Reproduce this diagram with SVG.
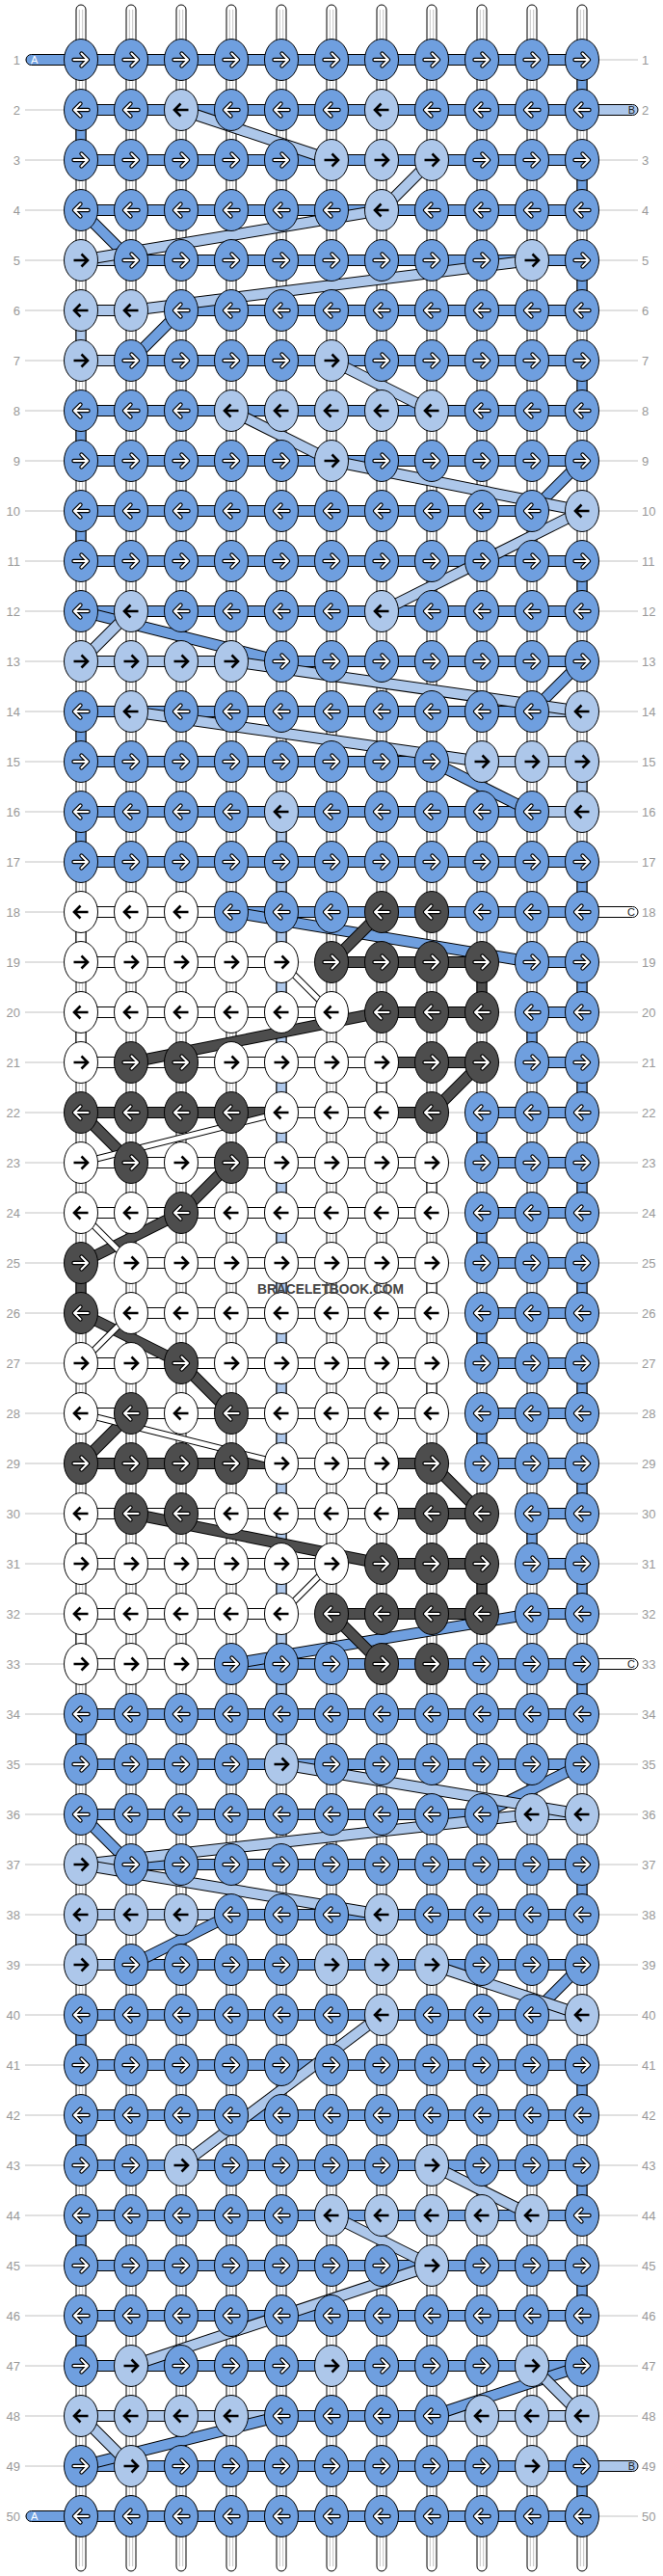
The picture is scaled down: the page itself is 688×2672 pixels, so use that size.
<svg xmlns="http://www.w3.org/2000/svg" xmlns:xlink="http://www.w3.org/1999/xlink" width="688" height="2672" viewBox="0 0 688 2672">
<style>
.lbl{font-family:"Liberation Sans",Arial,sans-serif;font-size:13px;fill:#999}
.gl{stroke:#c2c2c2;stroke-width:1}
.bs{fill:#fff;stroke:#000;stroke-width:1}
.bl{stroke:#c4c4c4;stroke-width:1}
.d{fill:#6f9fdf;stroke:#000;stroke-width:1}
.l{fill:#adc7ea;stroke:#000;stroke-width:1}
.w{fill:#fff;stroke:#000;stroke-width:1}
.k{fill:#4d4d4d;stroke:#000;stroke-width:1}
.so{stroke:#000;stroke-width:12}
.sow{stroke:#000;stroke-width:7}
.sd{stroke:#6f9fdf;stroke-width:10}
.sl{stroke:#adc7ea;stroke-width:10}
.sw{stroke:#fff;stroke-width:5}
.sk{stroke:#4d4d4d;stroke-width:10}
.ao{fill:none;stroke:#000;stroke-width:4.4;stroke-linecap:round;stroke-linejoin:round}
.ai{fill:none;stroke:#fff;stroke-width:2;stroke-linecap:round;stroke-linejoin:round}
.ab{fill:none;stroke:#000;stroke-width:2.6;stroke-linecap:butt;stroke-linejoin:miter}
.tl{font-family:"Liberation Sans",Arial,sans-serif;font-size:11px}
</style>
<defs>
<path id="ar" d="M-7.5 0H6M0.5-6.5L7 0L0.5 6.5"/>
<path id="al" d="M7.5 0H-6M-0.5-6.5L-7 0L-0.5 6.5"/>
<g id="DR"><ellipse class="d" rx="17.5" ry="21.5"/><use href="#ar" class="ao"/><use href="#ar" class="ai"/></g>
<g id="DL"><ellipse class="d" rx="17.5" ry="21.5"/><use href="#al" class="ao"/><use href="#al" class="ai"/></g>
<g id="KR"><ellipse class="k" rx="17.5" ry="21.5"/><use href="#ar" class="ao"/><use href="#ar" class="ai"/></g>
<g id="KL"><ellipse class="k" rx="17.5" ry="21.5"/><use href="#al" class="ao"/><use href="#al" class="ai"/></g>
<g id="LR"><ellipse class="l" rx="17.5" ry="21.5"/><use href="#ar" class="ab"/></g>
<g id="LL"><ellipse class="l" rx="17.5" ry="21.5"/><use href="#al" class="ab"/></g>
<g id="WR"><ellipse class="w" rx="17.5" ry="21.5"/><use href="#ar" class="ab"/></g>
<g id="WL"><ellipse class="w" rx="17.5" ry="21.5"/><use href="#al" class="ab"/></g>
<g id="vs"><rect class="bs" x="-5" y="5" width="10" height="2662" rx="5"/><line class="bl" x1="-1.7" y1="10" x2="-1.7" y2="2662"/><line class="bl" x1="1.7" y1="10" x2="1.7" y2="2662"/></g>
</defs>
<rect width="688" height="2672" fill="#fff"/>
<g id="guides">
<path class="gl" d="M26 62H662M26 114H662M26 166H662M26 218H662M26 270H662M26 322H662M26 374H662M26 426H662M26 478H662M26 530H662M26 582H662M26 634H662M26 686H662M26 738H662M26 790H662M26 842H662M26 894H662M26 946H662M26 998H662M26 1050H662M26 1102H662M26 1154H662M26 1206H662M26 1258H662M26 1310H662M26 1362H662M26 1414H662M26 1466H662M26 1518H662M26 1570H662M26 1622H662M26 1674H662M26 1726H662M26 1778H662M26 1830H662M26 1882H662M26 1934H662M26 1986H662M26 2038H662M26 2090H662M26 2142H662M26 2194H662M26 2246H662M26 2298H662M26 2350H662M26 2402H662M26 2454H662M26 2506H662M26 2558H662M26 2610H662"/>
</g>
<g id="labels-left" class="lbl" text-anchor="end">
<text x="21" y="66.5">1</text><text x="21" y="118.5">2</text><text x="21" y="170.5">3</text><text x="21" y="222.5">4</text><text x="21" y="274.5">5</text><text x="21" y="326.5">6</text><text x="21" y="378.5">7</text><text x="21" y="430.5">8</text><text x="21" y="482.5">9</text><text x="21" y="534.5">10</text><text x="21" y="586.5">11</text><text x="21" y="638.5">12</text><text x="21" y="690.5">13</text><text x="21" y="742.5">14</text><text x="21" y="794.5">15</text><text x="21" y="846.5">16</text><text x="21" y="898.5">17</text><text x="21" y="950.5">18</text><text x="21" y="1002.5">19</text><text x="21" y="1054.5">20</text><text x="21" y="1106.5">21</text><text x="21" y="1158.5">22</text><text x="21" y="1210.5">23</text><text x="21" y="1262.5">24</text><text x="21" y="1314.5">25</text><text x="21" y="1366.5">26</text><text x="21" y="1418.5">27</text><text x="21" y="1470.5">28</text><text x="21" y="1522.5">29</text><text x="21" y="1574.5">30</text><text x="21" y="1626.5">31</text><text x="21" y="1678.5">32</text><text x="21" y="1730.5">33</text><text x="21" y="1782.5">34</text><text x="21" y="1834.5">35</text><text x="21" y="1886.5">36</text><text x="21" y="1938.5">37</text><text x="21" y="1990.5">38</text><text x="21" y="2042.5">39</text><text x="21" y="2094.5">40</text><text x="21" y="2146.5">41</text><text x="21" y="2198.5">42</text><text x="21" y="2250.5">43</text><text x="21" y="2302.5">44</text><text x="21" y="2354.5">45</text><text x="21" y="2406.5">46</text><text x="21" y="2458.5">47</text><text x="21" y="2510.5">48</text><text x="21" y="2562.5">49</text><text x="21" y="2614.5">50</text>
</g>
<g id="labels-right" class="lbl">
<text x="666" y="66.5">1</text><text x="666" y="118.5">2</text><text x="666" y="170.5">3</text><text x="666" y="222.5">4</text><text x="666" y="274.5">5</text><text x="666" y="326.5">6</text><text x="666" y="378.5">7</text><text x="666" y="430.5">8</text><text x="666" y="482.5">9</text><text x="666" y="534.5">10</text><text x="666" y="586.5">11</text><text x="666" y="638.5">12</text><text x="666" y="690.5">13</text><text x="666" y="742.5">14</text><text x="666" y="794.5">15</text><text x="666" y="846.5">16</text><text x="666" y="898.5">17</text><text x="666" y="950.5">18</text><text x="666" y="1002.5">19</text><text x="666" y="1054.5">20</text><text x="666" y="1106.5">21</text><text x="666" y="1158.5">22</text><text x="666" y="1210.5">23</text><text x="666" y="1262.5">24</text><text x="666" y="1314.5">25</text><text x="666" y="1366.5">26</text><text x="666" y="1418.5">27</text><text x="666" y="1470.5">28</text><text x="666" y="1522.5">29</text><text x="666" y="1574.5">30</text><text x="666" y="1626.5">31</text><text x="666" y="1678.5">32</text><text x="666" y="1730.5">33</text><text x="666" y="1782.5">34</text><text x="666" y="1834.5">35</text><text x="666" y="1886.5">36</text><text x="666" y="1938.5">37</text><text x="666" y="1990.5">38</text><text x="666" y="2042.5">39</text><text x="666" y="2094.5">40</text><text x="666" y="2146.5">41</text><text x="666" y="2198.5">42</text><text x="666" y="2250.5">43</text><text x="666" y="2302.5">44</text><text x="666" y="2354.5">45</text><text x="666" y="2406.5">46</text><text x="666" y="2458.5">47</text><text x="666" y="2510.5">48</text><text x="666" y="2562.5">49</text><text x="666" y="2614.5">50</text>
</g>
<g id="base-strings">
<use href="#vs" x="84"/><use href="#vs" x="136"/><use href="#vs" x="188"/><use href="#vs" x="240"/><use href="#vs" x="292"/><use href="#vs" x="344"/><use href="#vs" x="396"/><use href="#vs" x="448"/><use href="#vs" x="500"/><use href="#vs" x="552"/><use href="#vs" x="604"/>
</g>
<g id="tails">
<rect class="d" x="27" y="56.5" width="60" height="11" rx="5.5"/><text class="tl" x="32" y="66" fill="#fff">A</text>
<rect class="d" x="27" y="2604.5" width="60" height="11" rx="5.5"/><text class="tl" x="32" y="2614" fill="#fff">A</text>
<rect class="l" x="600" y="108.5" width="62" height="11" rx="5.5"/><text class="tl" x="659" y="118" text-anchor="end" fill="#222">B</text>
<rect class="l" x="600" y="2552.5" width="62" height="11" rx="5.5"/><text class="tl" x="659" y="2562" text-anchor="end" fill="#222">B</text>
<rect class="w" x="600" y="940.5" width="62" height="11" rx="5.5"/><text class="tl" x="659" y="950" text-anchor="end" fill="#222">C</text>
<rect class="w" x="600" y="1720.5" width="62" height="11" rx="5.5"/><text class="tl" x="659" y="1730" text-anchor="end" fill="#222">C</text>
</g>
<g id="connectors">
<g id="vertical-turns">
<rect class="d" x="599" y="62" width="10" height="52"/><rect class="d" x="79" y="114" width="10" height="52"/><rect class="d" x="599" y="166" width="10" height="52"/><rect class="d" x="599" y="270" width="10" height="52"/><rect class="d" x="599" y="374" width="10" height="52"/><rect class="d" x="79" y="426" width="10" height="52"/><rect class="d" x="79" y="530" width="10" height="52"/><rect class="d" x="599" y="582" width="10" height="52"/><rect class="d" x="79" y="738" width="10" height="52"/><rect class="d" x="79" y="842" width="10" height="52"/><rect class="d" x="599" y="894" width="10" height="52"/><rect class="d" x="599" y="998" width="10" height="52"/><rect class="d" x="547" y="1050" width="10" height="52"/><rect class="d" x="599" y="1102" width="10" height="52"/><rect class="d" x="495" y="1154" width="10" height="52"/><rect class="d" x="599" y="1206" width="10" height="52"/><rect class="d" x="495" y="1258" width="10" height="52"/><rect class="d" x="599" y="1310" width="10" height="52"/><rect class="d" x="495" y="1362" width="10" height="52"/><rect class="d" x="599" y="1414" width="10" height="52"/><rect class="d" x="495" y="1466" width="10" height="52"/><rect class="d" x="599" y="1518" width="10" height="52"/><rect class="d" x="547" y="1570" width="10" height="52"/><rect class="d" x="599" y="1622" width="10" height="52"/><rect class="d" x="599" y="1726" width="10" height="52"/><rect class="d" x="79" y="1778" width="10" height="52"/><rect class="d" x="599" y="1934" width="10" height="52"/><rect class="d" x="79" y="2090" width="10" height="52"/><rect class="d" x="599" y="2142" width="10" height="52"/><rect class="d" x="79" y="2194" width="10" height="52"/><rect class="d" x="599" y="2246" width="10" height="52"/><rect class="d" x="79" y="2298" width="10" height="52"/><rect class="d" x="599" y="2350" width="10" height="52"/><rect class="d" x="79" y="2402" width="10" height="52"/><rect class="d" x="599" y="2558" width="10" height="52"/>
<rect class="l" x="79" y="322" width="10" height="52"/><rect class="l" x="599" y="790" width="10" height="52"/><rect class="l" x="79" y="1986" width="10" height="52"/><rect class="l" x="287" y="842" width="10" height="988"/>
<rect class="w" x="79" y="946" width="10" height="52"/><rect class="w" x="79" y="1050" width="10" height="52"/><rect class="w" x="391" y="1102" width="10" height="52"/><rect class="w" x="443" y="1206" width="10" height="52"/><rect class="w" x="443" y="1310" width="10" height="52"/><rect class="w" x="443" y="1414" width="10" height="52"/><rect class="w" x="391" y="1518" width="10" height="52"/><rect class="w" x="79" y="1570" width="10" height="52"/><rect class="w" x="79" y="1674" width="10" height="52"/>
<rect class="k" x="495" y="998" width="10" height="52"/><rect class="k" x="79" y="1310" width="10" height="52"/><rect class="k" x="495" y="1622" width="10" height="52"/>
</g>
<g id="row-threads">
<rect class="d" x="84" y="56.5" width="520" height="11"/>
<rect class="d" x="84" y="108.5" width="520" height="11"/>
<rect class="d" x="84" y="160.5" width="520" height="11"/>
<rect class="d" x="84" y="212.5" width="520" height="11"/>
<rect class="l" x="84" y="264.5" width="52" height="11"/><rect class="d" x="136" y="264.5" width="468" height="11"/>
<rect class="l" x="84" y="316.5" width="52" height="11"/><rect class="d" x="188" y="316.5" width="416" height="11"/>
<rect class="l" x="84" y="368.5" width="52" height="11"/><rect class="d" x="136" y="368.5" width="468" height="11"/>
<rect class="d" x="84" y="420.5" width="520" height="11"/>
<rect class="d" x="84" y="472.5" width="520" height="11"/>
<rect class="d" x="84" y="524.5" width="468" height="11"/>
<rect class="d" x="84" y="576.5" width="520" height="11"/>
<rect class="d" x="84" y="628.5" width="520" height="11"/>
<rect class="l" x="84" y="680.5" width="156" height="11"/><rect class="d" x="292" y="680.5" width="312" height="11"/>
<rect class="d" x="84" y="732.5" width="468" height="11"/><rect class="l" x="552" y="732.5" width="52" height="11"/>
<rect class="d" x="84" y="784.5" width="364" height="11"/><rect class="l" x="500" y="784.5" width="104" height="11"/>
<rect class="d" x="84" y="836.5" width="468" height="11"/><rect class="l" x="552" y="836.5" width="52" height="11"/>
<rect class="d" x="84" y="888.5" width="520" height="11"/>
<rect class="w" x="84" y="940.5" width="156" height="11"/><rect class="d" x="240" y="940.5" width="364" height="11"/>
<rect class="w" x="84" y="992.5" width="208" height="11"/><rect class="k" x="344" y="992.5" width="156" height="11"/><rect class="d" x="552" y="992.5" width="52" height="11"/>
<rect class="w" x="84" y="1044.5" width="260" height="11"/><rect class="k" x="396" y="1044.5" width="104" height="11"/><rect class="d" x="552" y="1044.5" width="52" height="11"/>
<rect class="w" x="84" y="1096.5" width="312" height="11"/><rect class="k" x="396" y="1096.5" width="104" height="11"/><rect class="d" x="552" y="1096.5" width="52" height="11"/>
<rect class="k" x="84" y="1148.5" width="208" height="11"/><rect class="w" x="292" y="1148.5" width="104" height="11"/><rect class="k" x="396" y="1148.5" width="52" height="11"/><rect class="d" x="500" y="1148.5" width="104" height="11"/>
<rect class="w" x="84" y="1200.5" width="364" height="11"/><rect class="d" x="500" y="1200.5" width="104" height="11"/>
<rect class="w" x="84" y="1252.5" width="364" height="11"/><rect class="d" x="500" y="1252.5" width="104" height="11"/>
<rect class="w" x="136" y="1304.5" width="312" height="11"/><rect class="d" x="500" y="1304.5" width="104" height="11"/>
<rect class="w" x="136" y="1356.5" width="312" height="11"/><rect class="d" x="500" y="1356.5" width="104" height="11"/>
<rect class="w" x="84" y="1408.5" width="364" height="11"/><rect class="d" x="500" y="1408.5" width="104" height="11"/>
<rect class="w" x="84" y="1460.5" width="364" height="11"/><rect class="d" x="500" y="1460.5" width="104" height="11"/>
<rect class="k" x="84" y="1512.5" width="208" height="11"/><rect class="w" x="292" y="1512.5" width="104" height="11"/><rect class="k" x="396" y="1512.5" width="52" height="11"/><rect class="d" x="500" y="1512.5" width="104" height="11"/>
<rect class="w" x="84" y="1564.5" width="312" height="11"/><rect class="k" x="396" y="1564.5" width="104" height="11"/><rect class="d" x="552" y="1564.5" width="52" height="11"/>
<rect class="w" x="84" y="1616.5" width="260" height="11"/><rect class="k" x="396" y="1616.5" width="104" height="11"/><rect class="d" x="552" y="1616.5" width="52" height="11"/>
<rect class="w" x="84" y="1668.5" width="208" height="11"/><rect class="k" x="344" y="1668.5" width="156" height="11"/><rect class="d" x="552" y="1668.5" width="52" height="11"/>
<rect class="w" x="84" y="1720.5" width="156" height="11"/><rect class="d" x="240" y="1720.5" width="364" height="11"/>
<rect class="d" x="84" y="1772.5" width="520" height="11"/>
<rect class="d" x="84" y="1824.5" width="520" height="11"/>
<rect class="d" x="84" y="1876.5" width="416" height="11"/><rect class="l" x="552" y="1876.5" width="52" height="11"/>
<rect class="d" x="136" y="1928.5" width="468" height="11"/>
<rect class="l" x="84" y="1980.5" width="156" height="11"/><rect class="d" x="240" y="1980.5" width="364" height="11"/>
<rect class="l" x="84" y="2032.5" width="52" height="11"/><rect class="d" x="136" y="2032.5" width="468" height="11"/>
<rect class="d" x="84" y="2084.5" width="468" height="11"/><rect class="l" x="552" y="2084.5" width="52" height="11"/>
<rect class="d" x="84" y="2136.5" width="520" height="11"/>
<rect class="d" x="84" y="2188.5" width="520" height="11"/>
<rect class="d" x="84" y="2240.5" width="520" height="11"/>
<rect class="d" x="84" y="2292.5" width="520" height="11"/>
<rect class="d" x="84" y="2344.5" width="520" height="11"/>
<rect class="d" x="84" y="2396.5" width="520" height="11"/>
<rect class="d" x="84" y="2448.5" width="520" height="11"/>
<rect class="l" x="84" y="2500.5" width="208" height="11"/><rect class="d" x="292" y="2500.5" width="156" height="11"/><rect class="l" x="448" y="2500.5" width="156" height="11"/>
<rect class="d" x="84" y="2552.5" width="520" height="11"/>
<rect class="d" x="84" y="2604.5" width="520" height="11"/>
</g>
<g id="carried-strands">
<g><line class="so" x1="84" y1="218" x2="136" y2="270"/><line class="sd" x1="84" y1="218" x2="136" y2="270"/></g>
<g><line class="so" x1="188" y1="322" x2="136" y2="374"/><line class="sd" x1="188" y1="322" x2="136" y2="374"/></g>
<g><line class="so" x1="604" y1="478" x2="552" y2="530"/><line class="sd" x1="604" y1="478" x2="552" y2="530"/></g>
<g><line class="so" x1="84" y1="634" x2="292" y2="686"/><line class="sd" x1="84" y1="634" x2="292" y2="686"/></g>
<g><line class="so" x1="604" y1="686" x2="552" y2="738"/><line class="sd" x1="604" y1="686" x2="552" y2="738"/></g>
<g><line class="so" x1="448" y1="790" x2="552" y2="842"/><line class="sd" x1="448" y1="790" x2="552" y2="842"/></g>
<g><line class="so" x1="240" y1="946" x2="552" y2="998"/><line class="sd" x1="240" y1="946" x2="552" y2="998"/></g>
<g><line class="so" x1="552" y1="1674" x2="240" y2="1726"/><line class="sd" x1="552" y1="1674" x2="240" y2="1726"/></g>
<g><line class="so" x1="604" y1="1830" x2="500" y2="1882"/><line class="sd" x1="604" y1="1830" x2="500" y2="1882"/></g>
<g><line class="so" x1="84" y1="1882" x2="136" y2="1934"/><line class="sd" x1="84" y1="1882" x2="136" y2="1934"/></g>
<g><line class="so" x1="240" y1="1986" x2="136" y2="2038"/><line class="sd" x1="240" y1="1986" x2="136" y2="2038"/></g>
<g><line class="so" x1="604" y1="2038" x2="552" y2="2090"/><line class="sd" x1="604" y1="2038" x2="552" y2="2090"/></g>
<g><line class="so" x1="604" y1="2454" x2="448" y2="2506"/><line class="sd" x1="604" y1="2454" x2="448" y2="2506"/></g>
<g><line class="so" x1="292" y1="2506" x2="84" y2="2558"/><line class="sd" x1="292" y1="2506" x2="84" y2="2558"/></g>
<g><line class="so" x1="188" y1="114" x2="344" y2="166"/><line class="sl" x1="188" y1="114" x2="344" y2="166"/></g>
<g><line class="so" x1="448" y1="166" x2="396" y2="218"/><line class="sl" x1="448" y1="166" x2="396" y2="218"/></g>
<g><line class="so" x1="396" y1="218" x2="84" y2="270"/><line class="sl" x1="396" y1="218" x2="84" y2="270"/></g>
<g><line class="so" x1="552" y1="270" x2="136" y2="322"/><line class="sl" x1="552" y1="270" x2="136" y2="322"/></g>
<g><line class="so" x1="344" y1="374" x2="448" y2="426"/><line class="sl" x1="344" y1="374" x2="448" y2="426"/></g>
<g><line class="so" x1="240" y1="426" x2="344" y2="478"/><line class="sl" x1="240" y1="426" x2="344" y2="478"/></g>
<g><line class="so" x1="344" y1="478" x2="604" y2="530"/><line class="sl" x1="344" y1="478" x2="604" y2="530"/></g>
<g><line class="so" x1="604" y1="530" x2="396" y2="634"/><line class="sl" x1="604" y1="530" x2="396" y2="634"/></g>
<g><line class="so" x1="136" y1="634" x2="84" y2="686"/><line class="sl" x1="136" y1="634" x2="84" y2="686"/></g>
<g><line class="so" x1="240" y1="686" x2="604" y2="738"/><line class="sl" x1="240" y1="686" x2="604" y2="738"/></g>
<g><line class="so" x1="136" y1="738" x2="500" y2="790"/><line class="sl" x1="136" y1="738" x2="500" y2="790"/></g>
<g><line class="so" x1="292" y1="1830" x2="604" y2="1882"/><line class="sl" x1="292" y1="1830" x2="604" y2="1882"/></g>
<g><line class="so" x1="552" y1="1882" x2="84" y2="1934"/><line class="sl" x1="552" y1="1882" x2="84" y2="1934"/></g>
<g><line class="so" x1="84" y1="1934" x2="396" y2="1986"/><line class="sl" x1="84" y1="1934" x2="396" y2="1986"/></g>
<g><line class="so" x1="448" y1="2038" x2="604" y2="2090"/><line class="sl" x1="448" y1="2038" x2="604" y2="2090"/></g>
<g><line class="so" x1="396" y1="2090" x2="188" y2="2246"/><line class="sl" x1="396" y1="2090" x2="188" y2="2246"/></g>
<g><line class="so" x1="448" y1="2246" x2="552" y2="2298"/><line class="sl" x1="448" y1="2246" x2="552" y2="2298"/></g>
<g><line class="so" x1="344" y1="2298" x2="448" y2="2350"/><line class="sl" x1="344" y1="2298" x2="448" y2="2350"/></g>
<g><line class="so" x1="448" y1="2350" x2="136" y2="2454"/><line class="sl" x1="448" y1="2350" x2="136" y2="2454"/></g>
<g><line class="so" x1="552" y1="2454" x2="604" y2="2506"/><line class="sl" x1="552" y1="2454" x2="604" y2="2506"/></g>
<g><line class="so" x1="84" y1="2506" x2="136" y2="2558"/><line class="sl" x1="84" y1="2506" x2="136" y2="2558"/></g>
<g><line class="so" x1="396" y1="946" x2="344" y2="998"/><line class="sk" x1="396" y1="946" x2="344" y2="998"/></g>
<g><line class="so" x1="396" y1="1050" x2="136" y2="1102"/><line class="sk" x1="396" y1="1050" x2="136" y2="1102"/></g>
<g><line class="so" x1="500" y1="1102" x2="448" y2="1154"/><line class="sk" x1="500" y1="1102" x2="448" y2="1154"/></g>
<g><line class="so" x1="84" y1="1154" x2="136" y2="1206"/><line class="sk" x1="84" y1="1154" x2="136" y2="1206"/></g>
<g><line class="so" x1="240" y1="1206" x2="188" y2="1258"/><line class="sk" x1="240" y1="1206" x2="188" y2="1258"/></g>
<g><line class="so" x1="188" y1="1258" x2="84" y2="1310"/><line class="sk" x1="188" y1="1258" x2="84" y2="1310"/></g>
<g><line class="so" x1="84" y1="1362" x2="188" y2="1414"/><line class="sk" x1="84" y1="1362" x2="188" y2="1414"/></g>
<g><line class="so" x1="188" y1="1414" x2="240" y2="1466"/><line class="sk" x1="188" y1="1414" x2="240" y2="1466"/></g>
<g><line class="so" x1="136" y1="1466" x2="84" y2="1518"/><line class="sk" x1="136" y1="1466" x2="84" y2="1518"/></g>
<g><line class="so" x1="448" y1="1518" x2="500" y2="1570"/><line class="sk" x1="448" y1="1518" x2="500" y2="1570"/></g>
<g><line class="so" x1="136" y1="1570" x2="396" y2="1622"/><line class="sk" x1="136" y1="1570" x2="396" y2="1622"/></g>
<g><line class="so" x1="344" y1="1674" x2="396" y2="1726"/><line class="sk" x1="344" y1="1674" x2="396" y2="1726"/></g>
<g><line class="sow" x1="292" y1="998" x2="344" y2="1050"/><line class="sw" x1="292" y1="998" x2="344" y2="1050"/></g>
<g><line class="sow" x1="292" y1="1154" x2="84" y2="1206"/><line class="sw" x1="292" y1="1154" x2="84" y2="1206"/></g>
<g><line class="sow" x1="84" y1="1258" x2="136" y2="1310"/><line class="sw" x1="84" y1="1258" x2="136" y2="1310"/></g>
<g><line class="sow" x1="136" y1="1362" x2="84" y2="1414"/><line class="sw" x1="136" y1="1362" x2="84" y2="1414"/></g>
<g><line class="sow" x1="84" y1="1466" x2="292" y2="1518"/><line class="sw" x1="84" y1="1466" x2="292" y2="1518"/></g>
<g><line class="sow" x1="344" y1="1622" x2="292" y2="1674"/><line class="sw" x1="344" y1="1622" x2="292" y2="1674"/></g>
</g>
</g>
<g id="knots">
<g id="row1" transform="translate(0,62)"><use id="n1_1" href="#DR" x="84"/><use id="n1_2" href="#DR" x="136"/><use id="n1_3" href="#DR" x="188"/><use id="n1_4" href="#DR" x="240"/><use id="n1_5" href="#DR" x="292"/><use id="n1_6" href="#DR" x="344"/><use id="n1_7" href="#DR" x="396"/><use id="n1_8" href="#DR" x="448"/><use id="n1_9" href="#DR" x="500"/><use id="n1_10" href="#DR" x="552"/><use id="n1_11" href="#DR" x="604"/></g>
<g id="row2" transform="translate(0,114)"><use id="n2_1" href="#DL" x="84"/><use id="n2_2" href="#DL" x="136"/><use id="n2_3" href="#LL" x="188"/><use id="n2_4" href="#DL" x="240"/><use id="n2_5" href="#DL" x="292"/><use id="n2_6" href="#DL" x="344"/><use id="n2_7" href="#LL" x="396"/><use id="n2_8" href="#DL" x="448"/><use id="n2_9" href="#DL" x="500"/><use id="n2_10" href="#DL" x="552"/><use id="n2_11" href="#DL" x="604"/></g>
<g id="row3" transform="translate(0,166)"><use id="n3_1" href="#DR" x="84"/><use id="n3_2" href="#DR" x="136"/><use id="n3_3" href="#DR" x="188"/><use id="n3_4" href="#DR" x="240"/><use id="n3_5" href="#DR" x="292"/><use id="n3_6" href="#LR" x="344"/><use id="n3_7" href="#LR" x="396"/><use id="n3_8" href="#LR" x="448"/><use id="n3_9" href="#DR" x="500"/><use id="n3_10" href="#DR" x="552"/><use id="n3_11" href="#DR" x="604"/></g>
<g id="row4" transform="translate(0,218)"><use id="n4_1" href="#DL" x="84"/><use id="n4_2" href="#DL" x="136"/><use id="n4_3" href="#DL" x="188"/><use id="n4_4" href="#DL" x="240"/><use id="n4_5" href="#DL" x="292"/><use id="n4_6" href="#DL" x="344"/><use id="n4_7" href="#LL" x="396"/><use id="n4_8" href="#DL" x="448"/><use id="n4_9" href="#DL" x="500"/><use id="n4_10" href="#DL" x="552"/><use id="n4_11" href="#DL" x="604"/></g>
<g id="row5" transform="translate(0,270)"><use id="n5_1" href="#LR" x="84"/><use id="n5_2" href="#DR" x="136"/><use id="n5_3" href="#DR" x="188"/><use id="n5_4" href="#DR" x="240"/><use id="n5_5" href="#DR" x="292"/><use id="n5_6" href="#DR" x="344"/><use id="n5_7" href="#DR" x="396"/><use id="n5_8" href="#DR" x="448"/><use id="n5_9" href="#DR" x="500"/><use id="n5_10" href="#LR" x="552"/><use id="n5_11" href="#DR" x="604"/></g>
<g id="row6" transform="translate(0,322)"><use id="n6_1" href="#LL" x="84"/><use id="n6_2" href="#LL" x="136"/><use id="n6_3" href="#DL" x="188"/><use id="n6_4" href="#DL" x="240"/><use id="n6_5" href="#DL" x="292"/><use id="n6_6" href="#DL" x="344"/><use id="n6_7" href="#DL" x="396"/><use id="n6_8" href="#DL" x="448"/><use id="n6_9" href="#DL" x="500"/><use id="n6_10" href="#DL" x="552"/><use id="n6_11" href="#DL" x="604"/></g>
<g id="row7" transform="translate(0,374)"><use id="n7_1" href="#LR" x="84"/><use id="n7_2" href="#DR" x="136"/><use id="n7_3" href="#DR" x="188"/><use id="n7_4" href="#DR" x="240"/><use id="n7_5" href="#DR" x="292"/><use id="n7_6" href="#LR" x="344"/><use id="n7_7" href="#DR" x="396"/><use id="n7_8" href="#DR" x="448"/><use id="n7_9" href="#DR" x="500"/><use id="n7_10" href="#DR" x="552"/><use id="n7_11" href="#DR" x="604"/></g>
<g id="row8" transform="translate(0,426)"><use id="n8_1" href="#DL" x="84"/><use id="n8_2" href="#DL" x="136"/><use id="n8_3" href="#DL" x="188"/><use id="n8_4" href="#LL" x="240"/><use id="n8_5" href="#LL" x="292"/><use id="n8_6" href="#LL" x="344"/><use id="n8_7" href="#LL" x="396"/><use id="n8_8" href="#LL" x="448"/><use id="n8_9" href="#DL" x="500"/><use id="n8_10" href="#DL" x="552"/><use id="n8_11" href="#DL" x="604"/></g>
<g id="row9" transform="translate(0,478)"><use id="n9_1" href="#DR" x="84"/><use id="n9_2" href="#DR" x="136"/><use id="n9_3" href="#DR" x="188"/><use id="n9_4" href="#DR" x="240"/><use id="n9_5" href="#DR" x="292"/><use id="n9_6" href="#LR" x="344"/><use id="n9_7" href="#DR" x="396"/><use id="n9_8" href="#DR" x="448"/><use id="n9_9" href="#DR" x="500"/><use id="n9_10" href="#DR" x="552"/><use id="n9_11" href="#DR" x="604"/></g>
<g id="row10" transform="translate(0,530)"><use id="n10_1" href="#DL" x="84"/><use id="n10_2" href="#DL" x="136"/><use id="n10_3" href="#DL" x="188"/><use id="n10_4" href="#DL" x="240"/><use id="n10_5" href="#DL" x="292"/><use id="n10_6" href="#DL" x="344"/><use id="n10_7" href="#DL" x="396"/><use id="n10_8" href="#DL" x="448"/><use id="n10_9" href="#DL" x="500"/><use id="n10_10" href="#DL" x="552"/><use id="n10_11" href="#LL" x="604"/></g>
<g id="row11" transform="translate(0,582)"><use id="n11_1" href="#DR" x="84"/><use id="n11_2" href="#DR" x="136"/><use id="n11_3" href="#DR" x="188"/><use id="n11_4" href="#DR" x="240"/><use id="n11_5" href="#DR" x="292"/><use id="n11_6" href="#DR" x="344"/><use id="n11_7" href="#DR" x="396"/><use id="n11_8" href="#DR" x="448"/><use id="n11_9" href="#DR" x="500"/><use id="n11_10" href="#DR" x="552"/><use id="n11_11" href="#DR" x="604"/></g>
<g id="row12" transform="translate(0,634)"><use id="n12_1" href="#DL" x="84"/><use id="n12_2" href="#LL" x="136"/><use id="n12_3" href="#DL" x="188"/><use id="n12_4" href="#DL" x="240"/><use id="n12_5" href="#DL" x="292"/><use id="n12_6" href="#DL" x="344"/><use id="n12_7" href="#LL" x="396"/><use id="n12_8" href="#DL" x="448"/><use id="n12_9" href="#DL" x="500"/><use id="n12_10" href="#DL" x="552"/><use id="n12_11" href="#DL" x="604"/></g>
<g id="row13" transform="translate(0,686)"><use id="n13_1" href="#LR" x="84"/><use id="n13_2" href="#LR" x="136"/><use id="n13_3" href="#LR" x="188"/><use id="n13_4" href="#LR" x="240"/><use id="n13_5" href="#DR" x="292"/><use id="n13_6" href="#DR" x="344"/><use id="n13_7" href="#DR" x="396"/><use id="n13_8" href="#DR" x="448"/><use id="n13_9" href="#DR" x="500"/><use id="n13_10" href="#DR" x="552"/><use id="n13_11" href="#DR" x="604"/></g>
<g id="row14" transform="translate(0,738)"><use id="n14_1" href="#DL" x="84"/><use id="n14_2" href="#LL" x="136"/><use id="n14_3" href="#DL" x="188"/><use id="n14_4" href="#DL" x="240"/><use id="n14_5" href="#DL" x="292"/><use id="n14_6" href="#DL" x="344"/><use id="n14_7" href="#DL" x="396"/><use id="n14_8" href="#DL" x="448"/><use id="n14_9" href="#DL" x="500"/><use id="n14_10" href="#DL" x="552"/><use id="n14_11" href="#LL" x="604"/></g>
<g id="row15" transform="translate(0,790)"><use id="n15_1" href="#DR" x="84"/><use id="n15_2" href="#DR" x="136"/><use id="n15_3" href="#DR" x="188"/><use id="n15_4" href="#DR" x="240"/><use id="n15_5" href="#DR" x="292"/><use id="n15_6" href="#DR" x="344"/><use id="n15_7" href="#DR" x="396"/><use id="n15_8" href="#DR" x="448"/><use id="n15_9" href="#LR" x="500"/><use id="n15_10" href="#LR" x="552"/><use id="n15_11" href="#LR" x="604"/></g>
<g id="row16" transform="translate(0,842)"><use id="n16_1" href="#DL" x="84"/><use id="n16_2" href="#DL" x="136"/><use id="n16_3" href="#DL" x="188"/><use id="n16_4" href="#DL" x="240"/><use id="n16_5" href="#LL" x="292"/><use id="n16_6" href="#DL" x="344"/><use id="n16_7" href="#DL" x="396"/><use id="n16_8" href="#DL" x="448"/><use id="n16_9" href="#DL" x="500"/><use id="n16_10" href="#DL" x="552"/><use id="n16_11" href="#LL" x="604"/></g>
<g id="row17" transform="translate(0,894)"><use id="n17_1" href="#DR" x="84"/><use id="n17_2" href="#DR" x="136"/><use id="n17_3" href="#DR" x="188"/><use id="n17_4" href="#DR" x="240"/><use id="n17_5" href="#DR" x="292"/><use id="n17_6" href="#DR" x="344"/><use id="n17_7" href="#DR" x="396"/><use id="n17_8" href="#DR" x="448"/><use id="n17_9" href="#DR" x="500"/><use id="n17_10" href="#DR" x="552"/><use id="n17_11" href="#DR" x="604"/></g>
<g id="row18" transform="translate(0,946)"><use id="n18_1" href="#WL" x="84"/><use id="n18_2" href="#WL" x="136"/><use id="n18_3" href="#WL" x="188"/><use id="n18_4" href="#DL" x="240"/><use id="n18_5" href="#DL" x="292"/><use id="n18_6" href="#DL" x="344"/><use id="n18_7" href="#KL" x="396"/><use id="n18_8" href="#KL" x="448"/><use id="n18_9" href="#DL" x="500"/><use id="n18_10" href="#DL" x="552"/><use id="n18_11" href="#DL" x="604"/></g>
<g id="row19" transform="translate(0,998)"><use id="n19_1" href="#WR" x="84"/><use id="n19_2" href="#WR" x="136"/><use id="n19_3" href="#WR" x="188"/><use id="n19_4" href="#WR" x="240"/><use id="n19_5" href="#WR" x="292"/><use id="n19_6" href="#KR" x="344"/><use id="n19_7" href="#KR" x="396"/><use id="n19_8" href="#KR" x="448"/><use id="n19_9" href="#KR" x="500"/><use id="n19_10" href="#DR" x="552"/><use id="n19_11" href="#DR" x="604"/></g>
<g id="row20" transform="translate(0,1050)"><use id="n20_1" href="#WL" x="84"/><use id="n20_2" href="#WL" x="136"/><use id="n20_3" href="#WL" x="188"/><use id="n20_4" href="#WL" x="240"/><use id="n20_5" href="#WL" x="292"/><use id="n20_6" href="#WL" x="344"/><use id="n20_7" href="#KL" x="396"/><use id="n20_8" href="#KL" x="448"/><use id="n20_9" href="#KL" x="500"/><use id="n20_10" href="#DL" x="552"/><use id="n20_11" href="#DL" x="604"/></g>
<g id="row21" transform="translate(0,1102)"><use id="n21_1" href="#WR" x="84"/><use id="n21_2" href="#KR" x="136"/><use id="n21_3" href="#KR" x="188"/><use id="n21_4" href="#WR" x="240"/><use id="n21_5" href="#WR" x="292"/><use id="n21_6" href="#WR" x="344"/><use id="n21_7" href="#WR" x="396"/><use id="n21_8" href="#KR" x="448"/><use id="n21_9" href="#KR" x="500"/><use id="n21_10" href="#DR" x="552"/><use id="n21_11" href="#DR" x="604"/></g>
<g id="row22" transform="translate(0,1154)"><use id="n22_1" href="#KL" x="84"/><use id="n22_2" href="#KL" x="136"/><use id="n22_3" href="#KL" x="188"/><use id="n22_4" href="#KL" x="240"/><use id="n22_5" href="#WL" x="292"/><use id="n22_6" href="#WL" x="344"/><use id="n22_7" href="#WL" x="396"/><use id="n22_8" href="#KL" x="448"/><use id="n22_9" href="#DL" x="500"/><use id="n22_10" href="#DL" x="552"/><use id="n22_11" href="#DL" x="604"/></g>
<g id="row23" transform="translate(0,1206)"><use id="n23_1" href="#WR" x="84"/><use id="n23_2" href="#KR" x="136"/><use id="n23_3" href="#WR" x="188"/><use id="n23_4" href="#KR" x="240"/><use id="n23_5" href="#WR" x="292"/><use id="n23_6" href="#WR" x="344"/><use id="n23_7" href="#WR" x="396"/><use id="n23_8" href="#WR" x="448"/><use id="n23_9" href="#DR" x="500"/><use id="n23_10" href="#DR" x="552"/><use id="n23_11" href="#DR" x="604"/></g>
<g id="row24" transform="translate(0,1258)"><use id="n24_1" href="#WL" x="84"/><use id="n24_2" href="#WL" x="136"/><use id="n24_3" href="#KL" x="188"/><use id="n24_4" href="#WL" x="240"/><use id="n24_5" href="#WL" x="292"/><use id="n24_6" href="#WL" x="344"/><use id="n24_7" href="#WL" x="396"/><use id="n24_8" href="#WL" x="448"/><use id="n24_9" href="#DL" x="500"/><use id="n24_10" href="#DL" x="552"/><use id="n24_11" href="#DL" x="604"/></g>
<g id="row25" transform="translate(0,1310)"><use id="n25_1" href="#KR" x="84"/><use id="n25_2" href="#WR" x="136"/><use id="n25_3" href="#WR" x="188"/><use id="n25_4" href="#WR" x="240"/><use id="n25_5" href="#WR" x="292"/><use id="n25_6" href="#WR" x="344"/><use id="n25_7" href="#WR" x="396"/><use id="n25_8" href="#WR" x="448"/><use id="n25_9" href="#DR" x="500"/><use id="n25_10" href="#DR" x="552"/><use id="n25_11" href="#DR" x="604"/></g>
<g id="row26" transform="translate(0,1362)"><use id="n26_1" href="#KL" x="84"/><use id="n26_2" href="#WL" x="136"/><use id="n26_3" href="#WL" x="188"/><use id="n26_4" href="#WL" x="240"/><use id="n26_5" href="#WL" x="292"/><use id="n26_6" href="#WL" x="344"/><use id="n26_7" href="#WL" x="396"/><use id="n26_8" href="#WL" x="448"/><use id="n26_9" href="#DL" x="500"/><use id="n26_10" href="#DL" x="552"/><use id="n26_11" href="#DL" x="604"/></g>
<g id="row27" transform="translate(0,1414)"><use id="n27_1" href="#WR" x="84"/><use id="n27_2" href="#WR" x="136"/><use id="n27_3" href="#KR" x="188"/><use id="n27_4" href="#WR" x="240"/><use id="n27_5" href="#WR" x="292"/><use id="n27_6" href="#WR" x="344"/><use id="n27_7" href="#WR" x="396"/><use id="n27_8" href="#WR" x="448"/><use id="n27_9" href="#DR" x="500"/><use id="n27_10" href="#DR" x="552"/><use id="n27_11" href="#DR" x="604"/></g>
<g id="row28" transform="translate(0,1466)"><use id="n28_1" href="#WL" x="84"/><use id="n28_2" href="#KL" x="136"/><use id="n28_3" href="#WL" x="188"/><use id="n28_4" href="#KL" x="240"/><use id="n28_5" href="#WL" x="292"/><use id="n28_6" href="#WL" x="344"/><use id="n28_7" href="#WL" x="396"/><use id="n28_8" href="#WL" x="448"/><use id="n28_9" href="#DL" x="500"/><use id="n28_10" href="#DL" x="552"/><use id="n28_11" href="#DL" x="604"/></g>
<g id="row29" transform="translate(0,1518)"><use id="n29_1" href="#KR" x="84"/><use id="n29_2" href="#KR" x="136"/><use id="n29_3" href="#KR" x="188"/><use id="n29_4" href="#KR" x="240"/><use id="n29_5" href="#WR" x="292"/><use id="n29_6" href="#WR" x="344"/><use id="n29_7" href="#WR" x="396"/><use id="n29_8" href="#KR" x="448"/><use id="n29_9" href="#DR" x="500"/><use id="n29_10" href="#DR" x="552"/><use id="n29_11" href="#DR" x="604"/></g>
<g id="row30" transform="translate(0,1570)"><use id="n30_1" href="#WL" x="84"/><use id="n30_2" href="#KL" x="136"/><use id="n30_3" href="#KL" x="188"/><use id="n30_4" href="#WL" x="240"/><use id="n30_5" href="#WL" x="292"/><use id="n30_6" href="#WL" x="344"/><use id="n30_7" href="#WL" x="396"/><use id="n30_8" href="#KL" x="448"/><use id="n30_9" href="#KL" x="500"/><use id="n30_10" href="#DL" x="552"/><use id="n30_11" href="#DL" x="604"/></g>
<g id="row31" transform="translate(0,1622)"><use id="n31_1" href="#WR" x="84"/><use id="n31_2" href="#WR" x="136"/><use id="n31_3" href="#WR" x="188"/><use id="n31_4" href="#WR" x="240"/><use id="n31_5" href="#WR" x="292"/><use id="n31_6" href="#WR" x="344"/><use id="n31_7" href="#KR" x="396"/><use id="n31_8" href="#KR" x="448"/><use id="n31_9" href="#KR" x="500"/><use id="n31_10" href="#DR" x="552"/><use id="n31_11" href="#DR" x="604"/></g>
<g id="row32" transform="translate(0,1674)"><use id="n32_1" href="#WL" x="84"/><use id="n32_2" href="#WL" x="136"/><use id="n32_3" href="#WL" x="188"/><use id="n32_4" href="#WL" x="240"/><use id="n32_5" href="#WL" x="292"/><use id="n32_6" href="#KL" x="344"/><use id="n32_7" href="#KL" x="396"/><use id="n32_8" href="#KL" x="448"/><use id="n32_9" href="#KL" x="500"/><use id="n32_10" href="#DL" x="552"/><use id="n32_11" href="#DL" x="604"/></g>
<g id="row33" transform="translate(0,1726)"><use id="n33_1" href="#WR" x="84"/><use id="n33_2" href="#WR" x="136"/><use id="n33_3" href="#WR" x="188"/><use id="n33_4" href="#DR" x="240"/><use id="n33_5" href="#DR" x="292"/><use id="n33_6" href="#DR" x="344"/><use id="n33_7" href="#KR" x="396"/><use id="n33_8" href="#KR" x="448"/><use id="n33_9" href="#DR" x="500"/><use id="n33_10" href="#DR" x="552"/><use id="n33_11" href="#DR" x="604"/></g>
<g id="row34" transform="translate(0,1778)"><use id="n34_1" href="#DL" x="84"/><use id="n34_2" href="#DL" x="136"/><use id="n34_3" href="#DL" x="188"/><use id="n34_4" href="#DL" x="240"/><use id="n34_5" href="#DL" x="292"/><use id="n34_6" href="#DL" x="344"/><use id="n34_7" href="#DL" x="396"/><use id="n34_8" href="#DL" x="448"/><use id="n34_9" href="#DL" x="500"/><use id="n34_10" href="#DL" x="552"/><use id="n34_11" href="#DL" x="604"/></g>
<g id="row35" transform="translate(0,1830)"><use id="n35_1" href="#DR" x="84"/><use id="n35_2" href="#DR" x="136"/><use id="n35_3" href="#DR" x="188"/><use id="n35_4" href="#DR" x="240"/><use id="n35_5" href="#LR" x="292"/><use id="n35_6" href="#DR" x="344"/><use id="n35_7" href="#DR" x="396"/><use id="n35_8" href="#DR" x="448"/><use id="n35_9" href="#DR" x="500"/><use id="n35_10" href="#DR" x="552"/><use id="n35_11" href="#DR" x="604"/></g>
<g id="row36" transform="translate(0,1882)"><use id="n36_1" href="#DL" x="84"/><use id="n36_2" href="#DL" x="136"/><use id="n36_3" href="#DL" x="188"/><use id="n36_4" href="#DL" x="240"/><use id="n36_5" href="#DL" x="292"/><use id="n36_6" href="#DL" x="344"/><use id="n36_7" href="#DL" x="396"/><use id="n36_8" href="#DL" x="448"/><use id="n36_9" href="#DL" x="500"/><use id="n36_10" href="#LL" x="552"/><use id="n36_11" href="#LL" x="604"/></g>
<g id="row37" transform="translate(0,1934)"><use id="n37_1" href="#LR" x="84"/><use id="n37_2" href="#DR" x="136"/><use id="n37_3" href="#DR" x="188"/><use id="n37_4" href="#DR" x="240"/><use id="n37_5" href="#DR" x="292"/><use id="n37_6" href="#DR" x="344"/><use id="n37_7" href="#DR" x="396"/><use id="n37_8" href="#DR" x="448"/><use id="n37_9" href="#DR" x="500"/><use id="n37_10" href="#DR" x="552"/><use id="n37_11" href="#DR" x="604"/></g>
<g id="row38" transform="translate(0,1986)"><use id="n38_1" href="#LL" x="84"/><use id="n38_2" href="#LL" x="136"/><use id="n38_3" href="#LL" x="188"/><use id="n38_4" href="#DL" x="240"/><use id="n38_5" href="#DL" x="292"/><use id="n38_6" href="#DL" x="344"/><use id="n38_7" href="#LL" x="396"/><use id="n38_8" href="#DL" x="448"/><use id="n38_9" href="#DL" x="500"/><use id="n38_10" href="#DL" x="552"/><use id="n38_11" href="#DL" x="604"/></g>
<g id="row39" transform="translate(0,2038)"><use id="n39_1" href="#LR" x="84"/><use id="n39_2" href="#DR" x="136"/><use id="n39_3" href="#DR" x="188"/><use id="n39_4" href="#DR" x="240"/><use id="n39_5" href="#DR" x="292"/><use id="n39_6" href="#LR" x="344"/><use id="n39_7" href="#LR" x="396"/><use id="n39_8" href="#LR" x="448"/><use id="n39_9" href="#DR" x="500"/><use id="n39_10" href="#DR" x="552"/><use id="n39_11" href="#DR" x="604"/></g>
<g id="row40" transform="translate(0,2090)"><use id="n40_1" href="#DL" x="84"/><use id="n40_2" href="#DL" x="136"/><use id="n40_3" href="#DL" x="188"/><use id="n40_4" href="#DL" x="240"/><use id="n40_5" href="#DL" x="292"/><use id="n40_6" href="#DL" x="344"/><use id="n40_7" href="#LL" x="396"/><use id="n40_8" href="#DL" x="448"/><use id="n40_9" href="#DL" x="500"/><use id="n40_10" href="#DL" x="552"/><use id="n40_11" href="#LL" x="604"/></g>
<g id="row41" transform="translate(0,2142)"><use id="n41_1" href="#DR" x="84"/><use id="n41_2" href="#DR" x="136"/><use id="n41_3" href="#DR" x="188"/><use id="n41_4" href="#DR" x="240"/><use id="n41_5" href="#DR" x="292"/><use id="n41_6" href="#DR" x="344"/><use id="n41_7" href="#DR" x="396"/><use id="n41_8" href="#DR" x="448"/><use id="n41_9" href="#DR" x="500"/><use id="n41_10" href="#DR" x="552"/><use id="n41_11" href="#DR" x="604"/></g>
<g id="row42" transform="translate(0,2194)"><use id="n42_1" href="#DL" x="84"/><use id="n42_2" href="#DL" x="136"/><use id="n42_3" href="#DL" x="188"/><use id="n42_4" href="#DL" x="240"/><use id="n42_5" href="#DL" x="292"/><use id="n42_6" href="#DL" x="344"/><use id="n42_7" href="#DL" x="396"/><use id="n42_8" href="#DL" x="448"/><use id="n42_9" href="#DL" x="500"/><use id="n42_10" href="#DL" x="552"/><use id="n42_11" href="#DL" x="604"/></g>
<g id="row43" transform="translate(0,2246)"><use id="n43_1" href="#DR" x="84"/><use id="n43_2" href="#DR" x="136"/><use id="n43_3" href="#LR" x="188"/><use id="n43_4" href="#DR" x="240"/><use id="n43_5" href="#DR" x="292"/><use id="n43_6" href="#DR" x="344"/><use id="n43_7" href="#DR" x="396"/><use id="n43_8" href="#LR" x="448"/><use id="n43_9" href="#DR" x="500"/><use id="n43_10" href="#DR" x="552"/><use id="n43_11" href="#DR" x="604"/></g>
<g id="row44" transform="translate(0,2298)"><use id="n44_1" href="#DL" x="84"/><use id="n44_2" href="#DL" x="136"/><use id="n44_3" href="#DL" x="188"/><use id="n44_4" href="#DL" x="240"/><use id="n44_5" href="#DL" x="292"/><use id="n44_6" href="#LL" x="344"/><use id="n44_7" href="#LL" x="396"/><use id="n44_8" href="#LL" x="448"/><use id="n44_9" href="#LL" x="500"/><use id="n44_10" href="#LL" x="552"/><use id="n44_11" href="#DL" x="604"/></g>
<g id="row45" transform="translate(0,2350)"><use id="n45_1" href="#DR" x="84"/><use id="n45_2" href="#DR" x="136"/><use id="n45_3" href="#DR" x="188"/><use id="n45_4" href="#DR" x="240"/><use id="n45_5" href="#DR" x="292"/><use id="n45_6" href="#DR" x="344"/><use id="n45_7" href="#DR" x="396"/><use id="n45_8" href="#LR" x="448"/><use id="n45_9" href="#DR" x="500"/><use id="n45_10" href="#DR" x="552"/><use id="n45_11" href="#DR" x="604"/></g>
<g id="row46" transform="translate(0,2402)"><use id="n46_1" href="#DL" x="84"/><use id="n46_2" href="#DL" x="136"/><use id="n46_3" href="#DL" x="188"/><use id="n46_4" href="#DL" x="240"/><use id="n46_5" href="#DL" x="292"/><use id="n46_6" href="#DL" x="344"/><use id="n46_7" href="#DL" x="396"/><use id="n46_8" href="#DL" x="448"/><use id="n46_9" href="#DL" x="500"/><use id="n46_10" href="#DL" x="552"/><use id="n46_11" href="#DL" x="604"/></g>
<g id="row47" transform="translate(0,2454)"><use id="n47_1" href="#DR" x="84"/><use id="n47_2" href="#LR" x="136"/><use id="n47_3" href="#DR" x="188"/><use id="n47_4" href="#DR" x="240"/><use id="n47_5" href="#DR" x="292"/><use id="n47_6" href="#LR" x="344"/><use id="n47_7" href="#DR" x="396"/><use id="n47_8" href="#DR" x="448"/><use id="n47_9" href="#DR" x="500"/><use id="n47_10" href="#LR" x="552"/><use id="n47_11" href="#DR" x="604"/></g>
<g id="row48" transform="translate(0,2506)"><use id="n48_1" href="#LL" x="84"/><use id="n48_2" href="#LL" x="136"/><use id="n48_3" href="#LL" x="188"/><use id="n48_4" href="#LL" x="240"/><use id="n48_5" href="#DL" x="292"/><use id="n48_6" href="#DL" x="344"/><use id="n48_7" href="#DL" x="396"/><use id="n48_8" href="#DL" x="448"/><use id="n48_9" href="#LL" x="500"/><use id="n48_10" href="#LL" x="552"/><use id="n48_11" href="#LL" x="604"/></g>
<g id="row49" transform="translate(0,2558)"><use id="n49_1" href="#DR" x="84"/><use id="n49_2" href="#LR" x="136"/><use id="n49_3" href="#DR" x="188"/><use id="n49_4" href="#DR" x="240"/><use id="n49_5" href="#DR" x="292"/><use id="n49_6" href="#DR" x="344"/><use id="n49_7" href="#DR" x="396"/><use id="n49_8" href="#DR" x="448"/><use id="n49_9" href="#DR" x="500"/><use id="n49_10" href="#LR" x="552"/><use id="n49_11" href="#DR" x="604"/></g>
<g id="row50" transform="translate(0,2610)"><use id="n50_1" href="#DL" x="84"/><use id="n50_2" href="#DL" x="136"/><use id="n50_3" href="#DL" x="188"/><use id="n50_4" href="#DL" x="240"/><use id="n50_5" href="#DL" x="292"/><use id="n50_6" href="#DL" x="344"/><use id="n50_7" href="#DL" x="396"/><use id="n50_8" href="#DL" x="448"/><use id="n50_9" href="#DL" x="500"/><use id="n50_10" href="#DL" x="552"/><use id="n50_11" href="#DL" x="604"/></g>
</g>
<text id="watermark" x="343" y="1341.5" text-anchor="middle" font-family="'Liberation Sans Narrow','Liberation Sans',Arial,sans-serif" font-weight="bold" font-size="15" fill="#444" textLength="152" lengthAdjust="spacingAndGlyphs">BRACELETBOOK.COM</text>
</svg>
